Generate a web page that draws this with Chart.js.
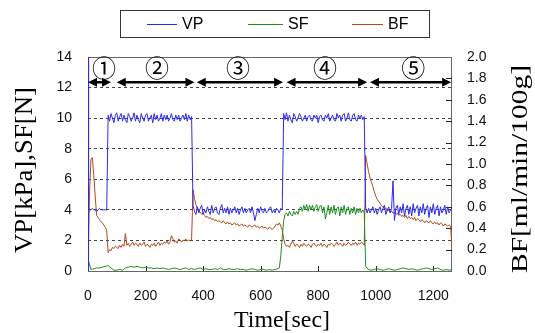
<!DOCTYPE html>
<html>
<head>
<meta charset="utf-8">
<script src="https://cdn.jsdelivr.net/npm/chart.js@4.4.0/dist/chart.umd.min.js"></script>
<style>
  html, body { margin: 0; padding: 0; background: #fff; }
</style>
</head>
<body>
<canvas id="myChart" width="535" height="333"></canvas>
<script>
// ---- data (time in seconds) ----

// VP [kPa], left axis
const vpStartTimes = [0, 1, 3];
const vpStartValues = [0, 15, 4.0];
const vpPhase1 = [4.0, 4.0, 4.1, 4.0, 4.0, 3.9, 4.0, 4.1, 4.0, 4.0, 4.0, 4.0, 4.0]; // from t=5
const vpPhase2 = [ // from t=70
  10.2, 9.8, 10.3, 10.0, 9.7, 10.2, 10.35, 9.8, 10.1, 10.3,
  9.8, 10.2, 9.9, 9.7, 10.3, 10.1, 9.8, 10.0, 10.35, 9.8,
  10.2, 9.9, 9.7, 10.3, 10.0, 9.8, 10.2, 10.3, 9.8, 10.0,
  10.2, 9.7, 10.3, 9.9, 10.2, 9.8, 10.0, 10.3, 9.8, 10.2,
  9.9, 10.2, 9.8, 10.0, 10.3, 9.9, 9.8, 10.2, 9.9, 10.2,
  9.8, 10.0, 10.2, 9.9, 10.3, 9.8, 10.2, 9.9, 10.1];
const vpPhase3 = [ // from t=365
  4.3, 3.9, 3.7, 4.2, 3.8, 4.1, 4.3, 3.7, 4.0, 3.8,
  4.2, 3.9, 3.7, 4.3, 3.8, 4.1, 4.2, 3.8, 3.7, 4.1,
  4.35, 3.8, 4.1, 3.8, 4.2, 3.7, 4.1, 3.8, 4.0, 4.2,
  3.8, 4.1, 3.7, 4.0, 4.2, 3.8, 4.1, 3.8, 4.0, 4.1,
  3.8, 4.2, 3.8, 3.3, 3.7, 4.1, 3.8, 4.2, 3.9, 3.8,
  4.1, 3.8, 3.9, 4.1, 4.2, 3.8, 4.0, 3.8, 4.1, 4.0,
  3.8, 4.1, 4.0];
const vpPhase4 = [ // from t=680
  10.3, 9.9, 10.35, 9.8, 10.2, 9.9, 9.7, 10.3, 10.1, 9.8,
  10.0, 10.3, 10.1, 9.8, 10.0, 10.2, 9.8, 10.1, 10.2, 9.9,
  9.8, 10.2, 10.0, 10.2, 9.7, 10.1, 10.2, 9.9, 9.8, 10.2,
  10.0, 10.3, 9.8, 10.0, 10.2, 9.9, 9.8, 10.3, 10.0, 10.2,
  9.8, 10.2, 10.3, 9.8, 10.0, 10.35, 9.9, 9.8, 10.2, 10.3,
  9.9, 9.8, 10.2, 10.0, 10.2, 9.9, 10.1];
const vpPhase5 = [ // from t=965
  4.1, 3.8, 4.1, 3.8, 4.0, 4.2, 3.8, 4.1, 3.7, 4.0,
  4.2, 3.8, 4.1, 4.3, 3.7, 4.0, 4.2, 3.8, 4.1, 5.9,
  3.3, 4.1, 4.3, 3.7, 4.2, 3.8, 4.4, 3.6, 4.1, 4.3,
  3.7, 4.2, 3.6, 4.4, 3.8, 4.1, 4.3, 3.6, 4.2, 3.8,
  4.4, 3.7, 4.1, 4.3, 3.5, 4.2, 3.8, 4.4, 3.7, 4.1,
  4.3, 3.6, 4.2, 3.8, 4.0, 4.3, 3.7, 4.2, 3.8, 4.0,
  4.1];

// SF [N], left axis
const sfLow1 = [ // from t=0, every 10 s
  0.8, 0.1, 0.15, 0.2, 0.2, 0.25, 0.3, 0.35, 0.2, 0.05,
  0.05, 0.1, 0.05, 0.2, 0.25, 0.3, 0.25, 0.3, 0.25, 0.2,
  0.25, 0.2, 0.2, 0.15, 0.2, 0.15, 0.2, 0.15, 0.1, 0.15,
  0.2, 0.15, 0.1, 0.15, 0.2, 0.1, 0.15, 0.1, 0.15, 0.2,
  0.1, 0.15, 0.1, 0.1, 0.15, 0.1, 0.2, 0.1, 0.1, 0.15,
  0.1, 0.1, 0.15, 0.1, 0.1, 0.05, 0.1, 0.15, 0.1, 0.05,
  0.1, 0.1, 0.05, 0.1, 0.05, 0.1, 0.15];
const sfRise = [0.2, 1.0, 2.2, 3.3, 3.7]; // from t=665
const sfHigh = [ // from t=690
  3.8, 3.6, 3.9, 3.7, 3.6, 3.9, 3.7, 3.9, 3.7, 4.1,
  4.2, 3.9, 4.3, 4.0, 4.35, 3.9, 4.3, 4.0, 4.3, 3.9,
  4.2, 4.35, 3.9, 4.2, 4.3, 3.8, 4.2, 3.4, 3.8, 4.3,
  3.7, 4.2, 3.8, 4.3, 3.7, 4.1, 4.2, 3.6, 4.2, 3.8,
  4.3, 3.7, 4.1, 4.2, 3.7, 4.1, 3.8, 4.2, 3.7, 4.1,
  3.8, 4.1, 3.8, 4.0, 3.8];
const sfLow2 = [ // from t=965, every 10 s
  0.3, 0.1, 0.05, 0.1, 0.15, 0.1, 0.05, 0.1, 0.15, 0.1,
  0.05, 0.1, 0.15, 0.2, 0.15, 0.1, 0.15, 0.1, 0.05, 0.1,
  0.15, 0.2, 0.15, 0.1, 0.15, 0.2, 0.1, 0.05, 0.1, 0.05,
  0.1];

// BF [ml/min/100g], right axis
const bfPhase1 = [0.0, 0.7, 1.04, 1.06, 0.9, 0.7, 0.52, 0.5, 0.48, 0.46, 0.45, 0.43, 0.41, 0.38]; // from t=0
const bfPhase2 = [ // from t=70
  0.17, 0.2, 0.19, 0.22, 0.21, 0.23, 0.22, 0.21, 0.24, 0.22,
  0.25, 0.23, 0.35, 0.24, 0.26, 0.23, 0.25, 0.27, 0.24, 0.26,
  0.25, 0.23, 0.26, 0.24, 0.25, 0.27, 0.23, 0.25, 0.24, 0.22,
  0.25, 0.24, 0.26, 0.23, 0.25, 0.27, 0.24, 0.26, 0.25, 0.27,
  0.26, 0.28, 0.25, 0.27, 0.33, 0.3, 0.27, 0.28, 0.26, 0.3,
  0.29, 0.27, 0.29, 0.28, 0.3, 0.28, 0.29, 0.28, 0.29];
const bfPhase3 = [ // from t=365
  0.76, 0.68, 0.62, 0.58, 0.56, 0.55, 0.53, 0.54, 0.52, 0.5,
  0.51, 0.49, 0.5, 0.48, 0.49, 0.47, 0.48, 0.46, 0.47, 0.46,
  0.45, 0.47, 0.45, 0.44, 0.46, 0.44, 0.45, 0.43, 0.44, 0.45,
  0.43, 0.44, 0.42, 0.43, 0.44, 0.42, 0.43, 0.42, 0.41, 0.43,
  0.42, 0.41, 0.42, 0.43, 0.41, 0.42, 0.4, 0.41, 0.42, 0.4,
  0.41, 0.4, 0.39, 0.41, 0.4, 0.39, 0.4, 0.42, 0.44, 0.43,
  0.45, 0.42, 0.38];
const bfPhase4 = [ // from t=680
  0.3, 0.25, 0.23, 0.24, 0.22, 0.25, 0.28, 0.26, 0.23, 0.25,
  0.24, 0.22, 0.25, 0.23, 0.26, 0.24, 0.23, 0.25, 0.24, 0.22,
  0.25, 0.26, 0.24, 0.23, 0.25, 0.24, 0.26, 0.23, 0.25, 0.24,
  0.22, 0.25, 0.24, 0.26, 0.25, 0.23, 0.25, 0.27, 0.24, 0.26,
  0.25, 0.23, 0.26, 0.24, 0.25, 0.27, 0.25, 0.24, 0.26, 0.25,
  0.27, 0.24, 0.26, 0.25, 0.27, 0.26, 0.24];
const bfPhase5 = [ // from t=965
  1.08, 1.0, 0.93, 0.87, 0.83, 0.79, 0.74, 0.7, 0.67, 0.65,
  0.63, 0.61, 0.6, 0.58, 0.59, 0.56, 0.57, 0.55, 0.56, 0.54,
  0.55, 0.53, 0.54, 0.52, 0.53, 0.51, 0.52, 0.5, 0.52, 0.49,
  0.51, 0.49, 0.5, 0.48, 0.5, 0.47, 0.49, 0.48, 0.46, 0.48,
  0.47, 0.45, 0.47, 0.46, 0.45, 0.47, 0.45, 0.44, 0.46, 0.44,
  0.45, 0.43, 0.45, 0.44, 0.42, 0.44, 0.43, 0.42, 0.43, 0.42,
  0.22];

// phases marked by arrows at the top
const phaseLabels = ['①', '②', '③', '④', '⑤'];
const phaseFrom = [0, 100, 378, 690, 980];
const phaseTo = [80, 370, 678, 970, 1262];
const phaseLabelAt = [56, 240, 521, 824, 1130];

// tick settings
const xTicks = [0, 200, 400, 600, 800, 1000, 1200];

// turn an evenly sampled run into {x, y} points
function seg(start, step, values) {
  return values.map((v, i) => ({ x: start + i * step, y: v }));
}

const vpData = [
  ...vpStartTimes.map((t, i) => ({ x: t, y: vpStartValues[i] })),
  ...seg(5, 5, vpPhase1), ...seg(70, 5, vpPhase2), ...seg(365, 5, vpPhase3),
  ...seg(680, 5, vpPhase4), ...seg(965, 5, vpPhase5)
];
const sfData = [
  ...seg(0, 10, sfLow1), ...seg(665, 5, sfRise), ...seg(690, 5, sfHigh), ...seg(965, 10, sfLow2)
];
const bfData = [
  ...seg(0, 5, bfPhase1), ...seg(70, 5, bfPhase2), ...seg(365, 5, bfPhase3),
  ...seg(680, 5, bfPhase4), ...seg(965, 5, bfPhase5)
];

const tickFont = { family: '"Liberation Sans", Arial, sans-serif', size: 14 };

function drawTitle(ctx, text, x, y, angle, font, length) {
  ctx.save();
  ctx.translate(x, y);
  ctx.rotate(angle);
  ctx.font = font;
  const w = ctx.measureText(text).width;
  ctx.scale(length / w, 1);
  ctx.textAlign = 'center';
  ctx.textBaseline = 'alphabetic';
  ctx.fillStyle = '#000';
  ctx.fillText(text, 0, 0);
  ctx.restore();
}

function arrowHead(ctx, x, y, dir) {
  ctx.beginPath();
  ctx.moveTo(x, y);
  ctx.lineTo(x - dir * 9, y - 4.5);
  ctx.lineTo(x - dir * 9, y + 4.5);
  ctx.closePath();
  ctx.fill();
}

const decorations = {
  id: 'decorations',
  beforeDatasetsDraw(chart) {
    const { ctx, chartArea: a, scales } = chart;
    ctx.save();
    // plot frame
    ctx.strokeStyle = '#666';
    ctx.lineWidth = 1;
    ctx.strokeRect(a.left + 0.5, a.top + 0.5, a.right - a.left - 1, a.bottom - a.top);
    // inner ticks on bottom and right
    ctx.strokeStyle = '#222';
    ctx.beginPath();
    scales.x.ticks.forEach(t => {
      const px = Math.round(scales.x.getPixelForValue(t.value)) + 0.5;
      if (t.value <= 0 || t.value >= 1260) return;
      ctx.moveTo(px, a.bottom);
      ctx.lineTo(px, a.bottom - 5);
    });
    scales.y1.ticks.forEach(t => {
      const py = Math.round(scales.y1.getPixelForValue(t.value)) + 0.5;
      if (t.value <= 0 || t.value >= 2) return;
      ctx.moveTo(a.right, py);
      ctx.lineTo(a.right - 6, py);
    });
    ctx.stroke();
    ctx.restore();
  },
  afterDraw(chart) {
    const { ctx, chartArea: a, scales } = chart;
    ctx.save();

    // phase arrows and labels
    const yArrow = scales.y.getPixelForValue(12.35);
    const yLabel = scales.y.getPixelForValue(13.3);
    ctx.strokeStyle = '#000';
    ctx.fillStyle = '#000';
    ctx.lineWidth = 2.5;
    phaseLabels.forEach((lab, i) => {
      const x0 = scales.x.getPixelForValue(phaseFrom[i]);
      const x1 = scales.x.getPixelForValue(phaseTo[i]);
      ctx.beginPath();
      ctx.moveTo(x0 + 4, yArrow);
      ctx.lineTo(x1 - 4, yArrow);
      ctx.stroke();
      arrowHead(ctx, x0, yArrow, -1);
      arrowHead(ctx, x1, yArrow, 1);
      ctx.font = '24px "Noto Sans CJK JP", "DejaVu Sans", sans-serif';
      ctx.textAlign = 'center';
      ctx.textBaseline = 'middle';
      ctx.fillText(lab, scales.x.getPixelForValue(phaseLabelAt[i]), yLabel);
    });

    // legend box
    ctx.lineWidth = 1;
    ctx.strokeStyle = '#333';
    ctx.fillStyle = '#fff';
    ctx.fillRect(120.5, 10.5, 309, 27);
    ctx.strokeRect(120.5, 10.5, 309, 27);
    const legendLine = [[147, 177], [248, 283], [352, 383]];
    ctx.font = '16px "Liberation Sans", Arial, sans-serif';
    ctx.textAlign = 'left';
    ctx.textBaseline = 'middle';
    chart.data.datasets.forEach((ds, i) => {
      ctx.strokeStyle = ds.borderColor;
      ctx.beginPath();
      ctx.moveTo(legendLine[i][0], 24.5);
      ctx.lineTo(legendLine[i][1], 24.5);
      ctx.stroke();
      ctx.fillStyle = '#000';
      ctx.fillText(ds.label, legendLine[i][1] + 5, 25);
    });

    // axis titles
    const serif = '"Liberation Serif", "Times New Roman", serif';
    drawTitle(ctx, 'VP[kPa],SF[N]', 32, 170, -Math.PI / 2, '25px ' + serif, 166);
    drawTitle(ctx, 'BF[ml/min/100g]', 527, 169, -Math.PI / 2, '23px ' + serif, 208);
    drawTitle(ctx, 'Time[sec]', 282, 327, 0, '23px ' + serif, 96);

    ctx.restore();
  }
};

const ctx = document.getElementById('myChart').getContext('2d');

const myChart = new Chart(ctx, {
  type: 'line',
  data: {
    datasets: [
      { label: 'VP', data: vpData, borderColor: '#2a2af0', yAxisID: 'y' },
      { label: 'SF', data: sfData, borderColor: '#1e8c1e', yAxisID: 'y' },
      { label: 'BF', data: bfData, borderColor: '#b2491c', yAxisID: 'y1' }
    ]
  },
  options: {
    responsive: false,
    animation: false,
    elements: {
      point: { radius: 0 },
      line: { borderWidth: 1, tension: 0 }
    },
    layout: { padding: { top: 57, left: 0, right: 0, bottom: 0 } },
    plugins: {
      legend: { display: false },
      tooltip: { enabled: false }
    },
    scales: {
      x: {
        type: 'linear',
        min: 0,
        max: 1265,
        afterBuildTicks(scale) {
          scale.ticks = xTicks.map(v => ({ value: v }));
        },
        afterFit(scale) { scale.height = 62; },
        grid: { display: false, drawTicks: false },
        border: { display: false },
        ticks: { color: '#111', font: tickFont, padding: 17, maxRotation: 0, callback: v => String(v) }
      },
      y: {
        position: 'left',
        min: 0,
        max: 14,
        afterFit(scale) { scale.width = 88; },
        grid: {
          drawTicks: false,
          color: c => (c.tick.value > 0 && c.tick.value < 14) ? '#444' : 'rgba(0,0,0,0)'
        },
        border: { display: false, dash: [3, 3] },
        ticks: { stepSize: 2, color: '#111', font: tickFont, padding: 16 }
      },
      y1: {
        position: 'right',
        min: 0,
        max: 2,
        afterFit(scale) { scale.width = 83; },
        grid: { display: false, drawTicks: false },
        border: { display: false },
        ticks: {
          stepSize: 0.2,
          color: '#111',
          font: tickFont,
          padding: 15,
          callback: v => v.toFixed(1)
        }
      }
    }
  },
  plugins: [decorations]
});
</script>
</body>
</html>
